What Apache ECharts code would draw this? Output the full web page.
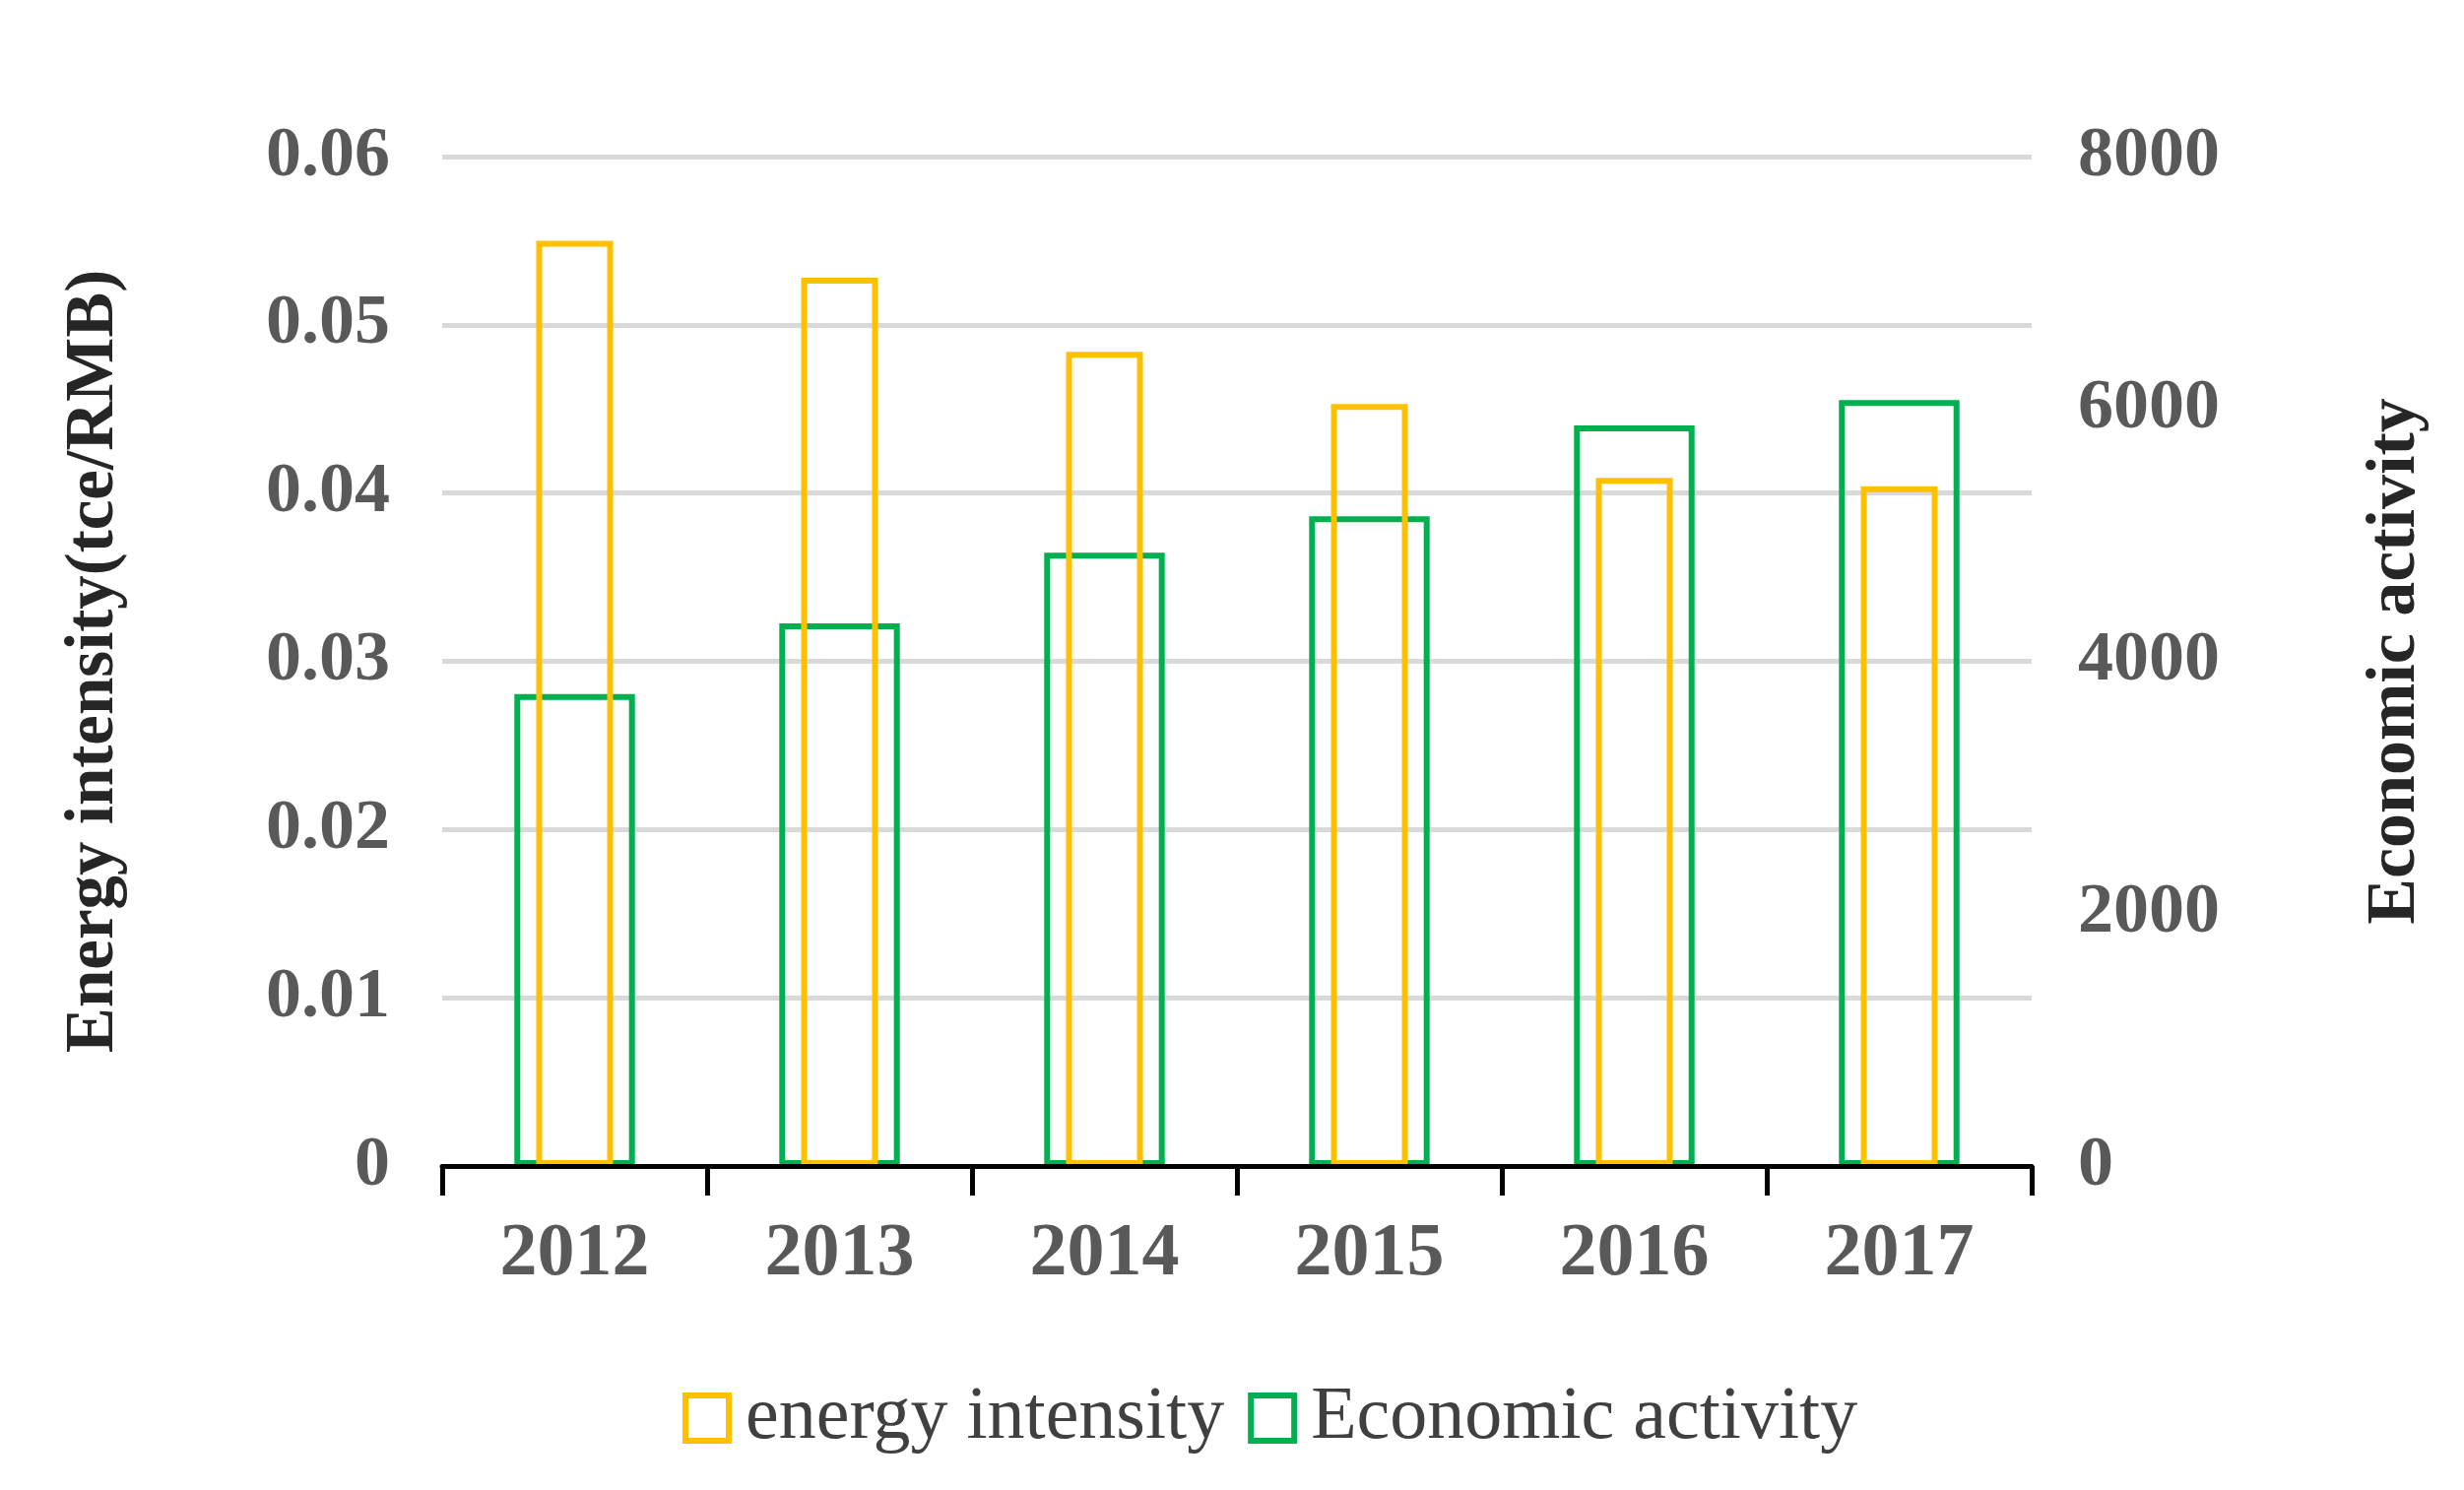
<!DOCTYPE html>
<html>
<head>
<meta charset="utf-8">
<script src="https://cdn.jsdelivr.net/npm/echarts@6/dist/echarts.min.js"></script>
<style>
html,body{margin:0;padding:0;background:#fff;}
#chart{width:2502px;height:1513px;}
</style>
</head>
<body>
<div id="chart"></div>
<script>
const years = ['2012','2013','2014','2015','2016','2017'];
const energyIntensity = [0.0550, 0.0528, 0.0484, 0.0453, 0.0409, 0.0404];
const economicActivity = [3740, 4300, 4860, 5150, 5870, 6070];
const leftTicks = {min: 0, max: 0.06, interval: 0.01};
const rightTicks = {min: 0, max: 8000, interval: 2000};

const FONT = 'Liberation Serif';
const YELLOW = '#FFC000';
const GREEN = '#00B050';

const chart = echarts.init(document.getElementById('chart'));
chart.setOption({
  animation: false,
  backgroundColor: '#fff',
  grid: {left: 449, right: 439, top: 159, bottom: 329, containLabel: false},
  legend: {
    bottom: 30,
    left: 688,
    itemWidth: 44,
    itemHeight: 46,
    itemGap: 24,
    icon: 'rect',
    textStyle: {fontFamily: FONT, fontSize: 76, color: '#404040', padding: [0,0,0,12]},
    data: [
      {name: 'energy intensity', itemStyle: {color: 'transparent', borderColor: YELLOW, borderWidth: 6}},
      {name: 'Economic activity', itemStyle: {color: 'transparent', borderColor: GREEN, borderWidth: 6}}
    ]
  },
  xAxis: [
    {
      type: 'category', data: years, boundaryGap: true,
      axisLine: {show: true, lineStyle: {color: '#000', width: 5}},
      axisTick: {show: true, length: 30, lineStyle: {color: '#000', width: 5}},
      axisLabel: {fontFamily: FONT, fontSize: 76, fontWeight: 'bold', color: '#595959', margin: 52},
      z: 5
    },
    {
      type: 'category', data: years, show: false, position: 'bottom'
    }
  ],
  yAxis: [
    {
      type: 'value', min: leftTicks.min, max: leftTicks.max, interval: leftTicks.interval,
      name: 'Energy intensity(tce/RMB)', nameLocation: 'middle', nameGap: 318, nameRotate: 90,
      nameTextStyle: {fontFamily: FONT, fontSize: 69, fontWeight: 'bold', color: '#262626'},
      axisLine: {show: false}, axisTick: {show: false},
      axisLabel: {fontFamily: FONT, fontSize: 72, fontWeight: 'bold', color: '#595959', margin: 53,
        formatter: v => v === 0 ? '0' : v.toFixed(2)},
      splitLine: {show: true, lineStyle: {color: '#D9D9D9', width: 5}}
    },
    {
      type: 'value', min: rightTicks.min, max: rightTicks.max, interval: rightTicks.interval,
      position: 'right',
      name: 'Economic activity', nameLocation: 'middle', nameGap: 335, nameRotate: 90,
      nameTextStyle: {fontFamily: FONT, fontSize: 70, fontWeight: 'bold', color: '#262626'},
      axisLine: {show: false}, axisTick: {show: false},
      axisLabel: {fontFamily: FONT, fontSize: 72, fontWeight: 'bold', color: '#595959', margin: 47,
        formatter: v => String(v)},
      splitLine: {show: false}
    }
  ],
  series: [
    {
      name: 'energy intensity', type: 'bar', xAxisIndex: 0, yAxisIndex: 0,
      data: energyIntensity, barWidth: '29%', z: 4,
      itemStyle: {color: 'transparent', borderColor: YELLOW, borderWidth: 6}
    },
    {
      name: 'Economic activity', type: 'bar', xAxisIndex: 1, yAxisIndex: 1,
      data: economicActivity, barWidth: '45.5%', z: 3,
      itemStyle: {color: 'transparent', borderColor: GREEN, borderWidth: 6}
    }
  ]
});
</script>
</body>
</html>
